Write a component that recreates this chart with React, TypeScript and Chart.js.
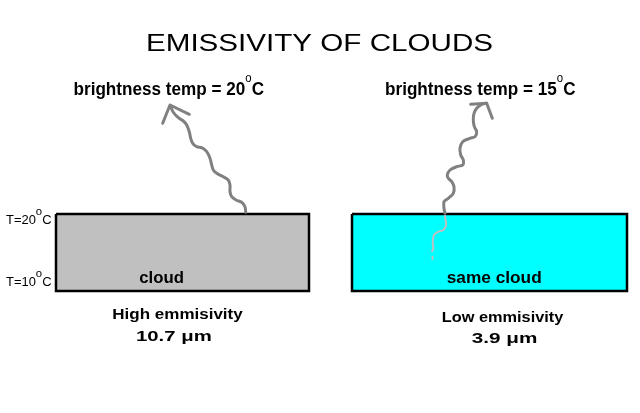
import React, { useEffect, useRef } from "react";
import { Chart, registerables } from "chart.js";

Chart.register(...registerables);

// ---- Data (diagram space: x 0..640, y 0..413 downward) ----
const cloudNames = ["cloud", "same cloud"];
const cloudLeft = [56, 352];
const cloudRight = [309, 627];
const cloudTop = [214, 214];
const cloudBottom = [291, 291];
const cloudColors = ["#c0c0c0", "#00ffff"];

// emitted radiation paths (wavy arrows)
const leftWave: [number, number][] = [
  [245.7, 212.3], [245, 206.7], [241.7, 202.3], [236, 200], [231.7, 196.7], [230, 191.7],
  [230, 185], [228.3, 180], [223.3, 176.7], [216.7, 173.3], [213.3, 170], [211.7, 165],
  [210, 158.3], [206.7, 151.7], [201.7, 147.7], [196.7, 146.7], [192.7, 143.3], [190.7, 138.3],
  [189.3, 131.7], [186.7, 125], [183.3, 121], [178.3, 117.7], [173.3, 112.3], [170.3, 105.5],
];
const leftHead: [number, number][] = [[162.7, 123.3], [170, 105], [189.3, 114.3]];

const rightWave: [number, number][] = [
  [445, 213.3], [444, 208.3], [444, 201.7], [448.3, 198.3], [453.3, 193.3], [454, 186.7],
  [451.7, 181.7], [448.3, 178.3], [447.3, 175], [450, 170], [456.7, 166.7], [462.7, 165],
  [463.3, 160], [460.7, 155], [460, 148.3], [462.7, 141.7], [470, 138.3], [475, 136.7],
  [476.7, 131.7], [474.3, 126.7], [473.3, 120], [474, 113.3], [476.7, 108.3], [481.7, 104.3],
  [486.7, 103.3],
];
const rightHead: [number, number][] = [[470.7, 104.3], [486.7, 103.3], [492.3, 118.3]];
const innerWave: [number, number][] = [
  [445, 216], [446, 225], [443.3, 230], [438.3, 231.7], [434, 235], [432.7, 241.7], [433.3, 248.3],
];
const innerWaveTail: [number, number][] = [
  [433.3, 248.3], [431.7, 253.3], [432.7, 258.3], [430.7, 263.3],
];

// texts
const titleText = "EMISSIVITY OF CLOUDS";
const brightnessTemps = ["20", "15"];
const layerTemps = ["20", "10"];
const emissivityNames = ["High emmisivity", "Low emmisivity"];
const wavelengths = ["10.7", "3.9"];

type Run = { t: string; px: number; bold?: boolean; dy?: number };
type Label = { x: number; y: number; w: number; runs: Run[] };

const FONT = "'Liberation Sans', Arial, Helvetica, sans-serif";

const labels: Label[] = [
  { x: 146, y: 50.5, w: 347, runs: [{ t: titleText, px: 24 }] },
  ...brightnessTemps.map((v, i) => ({
    x: [73.5, 385][i], y: 95, w: 190.5,
    runs: [
      { t: `brightness temp = ${v}`, px: 18, bold: true },
      { t: "o", px: 12, dy: -12.8 },
      { t: "C", px: 18, bold: true },
    ],
  })),
  ...layerTemps.map((v, i) => ({
    x: 6, y: [223.5, 286][i], w: 45.5,
    runs: [
      { t: `T=${v}`, px: 12.5 },
      { t: "o", px: 11, dy: -8.8 },
      { t: "C", px: 12.5 },
    ],
  })),
  ...cloudNames.map((n, i) => ({
    x: [139.3, 446.7][i], y: 282.5, w: [44.7, 95][i],
    runs: [{ t: n, px: 17, bold: true }],
  })),
  ...emissivityNames.map((n, i) => ({
    x: [112.3, 441.7][i], y: [319, 322.3][i], w: [130.4, 121.6][i],
    runs: [{ t: n, px: 15.5, bold: true }],
  })),
  ...wavelengths.map((v, i) => ({
    x: [136, 471.7][i], y: [340.7, 343.3][i], w: [75.7, 65.6][i],
    runs: [
      { t: `${v} `, px: 15.5, bold: true },
      { t: "μm", px: 15.5, bold: true },
    ],
  })),
];

const fontOf = (r: Run) => `${r.bold ? "bold " : ""}${r.px}px ${FONT}`;

const textPlugin = {
  id: "diagramText",
  afterDatasetsDraw(chart: any) {
    const { ctx, scales } = chart;
    const xs = scales.x;
    const ys = scales.y;
    ctx.save();
    ctx.fillStyle = "#000";
    ctx.textBaseline = "alphabetic";
    ctx.textAlign = "left";
    for (const lab of labels) {
      let total = 0;
      for (const r of lab.runs) {
        ctx.font = fontOf(r);
        total += ctx.measureText(r.t).width;
      }
      const px = xs.getPixelForValue(lab.x);
      const py = ys.getPixelForValue(lab.y);
      const s = lab.w / total;
      ctx.save();
      ctx.translate(px, py);
      ctx.scale(s, 1);
      let cx = 0;
      for (const r of lab.runs) {
        ctx.font = fontOf(r);
        ctx.fillText(r.t, cx, r.dy || 0);
        cx += ctx.measureText(r.t).width;
      }
      ctx.restore();
    }
    ctx.restore();
  },
};

const pts = (a: [number, number][]) => a.map(([x, y]) => ({ x, y }));

export default function App() {
  const ref = useRef<HTMLCanvasElement | null>(null);

  useEffect(() => {
    if (!ref.current) return;
    const datasets: any[] = [];
    cloudNames.forEach((_, i) => {
      datasets.push({
        label: `${cloudNames[i]} fill`,
        data: [
          { x: cloudLeft[i], y: cloudTop[i] },
          { x: cloudRight[i], y: cloudTop[i] },
        ],
        borderWidth: 0,
        borderColor: "rgba(0,0,0,0)",
        backgroundColor: cloudColors[i],
        fill: { value: cloudBottom[i] },
        showLine: true,
        pointRadius: 0,
        order: 10,
      });
      datasets.push({
        label: `${cloudNames[i]} outline`,
        data: [
          { x: cloudLeft[i], y: cloudTop[i] },
          { x: cloudRight[i], y: cloudTop[i] },
          { x: cloudRight[i], y: cloudBottom[i] },
          { x: cloudLeft[i], y: cloudBottom[i] },
          { x: cloudLeft[i], y: cloudTop[i] },
        ],
        borderColor: "#000",
        borderWidth: 2.5,
        borderJoinStyle: "miter",
        fill: false,
        showLine: true,
        pointRadius: 0,
        order: 9,
      });
    });
    const wave = (data: [number, number][], color: string, width: number, extra: any = {}) => ({
      data: pts(data),
      borderColor: color,
      borderWidth: width,
      borderCapStyle: "round",
      borderJoinStyle: "round",
      tension: 0.3,
      fill: false,
      showLine: true,
      pointRadius: 0,
      order: 1,
      ...extra,
    });
    datasets.push(wave(leftWave, "#808080", 3));
    datasets.push(wave(leftHead, "#808080", 3, { tension: 0 }));
    datasets.push(wave(rightWave, "#808080", 3));
    datasets.push(wave(rightHead, "#808080", 3, { tension: 0 }));
    datasets.push(wave(innerWave, "#c0c0c0", 2));
    datasets.push(wave(innerWaveTail, "#c0c0c0", 2, { borderDash: [4, 4], borderCapStyle: "butt" }));

    const chart = new Chart(ref.current, {
      type: "scatter",
      data: { datasets },
      options: {
        animation: false,
        responsive: false,
        devicePixelRatio: 1,
        layout: { padding: 0 },
        events: [],
        plugins: {
          legend: { display: false },
          tooltip: { enabled: false },
          title: { display: false },
        },
        scales: {
          x: { type: "linear", min: 0, max: 640, display: false },
          y: { type: "linear", min: 0, max: 413, reverse: true, display: false },
        },
      },
      plugins: [textPlugin],
    } as any);
    return () => chart.destroy();
  }, []);

  return (
    <div style={{ position: "absolute", left: 0, top: 0, width: 640, height: 413, background: "#fff" }}>
      <canvas ref={ref} width={640} height={413} style={{ display: "block" }} />
    </div>
  );
}
